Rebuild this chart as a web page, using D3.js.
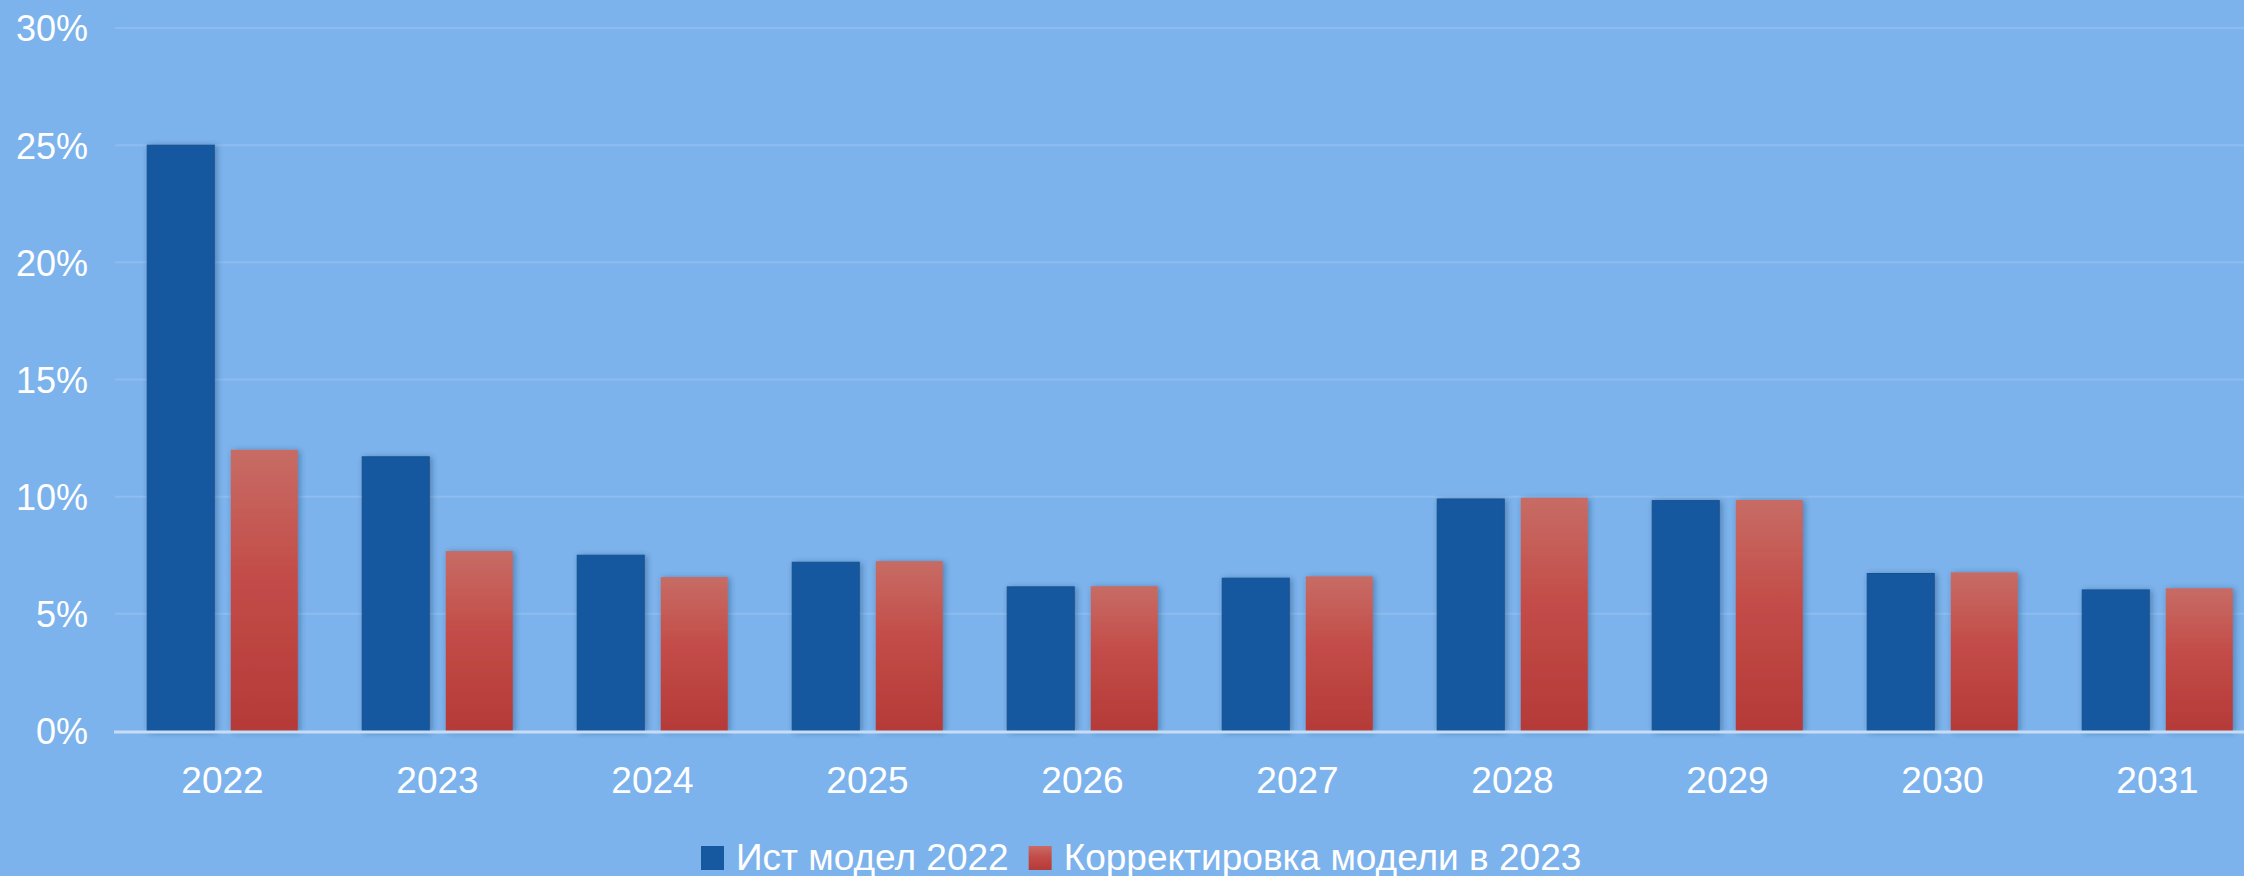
<!DOCTYPE html>
<html>
<head>
<meta charset="utf-8">
<script src="https://cdn.jsdelivr.net/npm/d3@7"></script>
<style>
  html, body { margin: 0; padding: 0; background: #7db3ec; overflow: hidden; }
  svg { display: block; font-family: "Liberation Sans", Arial, sans-serif; }
</style>
</head>
<body>
<div id="chart"></div>
<script>
// chart data
const years = ["2022", "2023", "2024", "2025", "2026", "2027", "2028", "2029", "2030", "2031"];
const histModel = [25.0, 11.7, 7.5, 7.2, 6.15, 6.52, 9.9, 9.83, 6.72, 6.02];
const corrected = [12.0, 7.68, 6.57, 7.25, 6.18, 6.6, 9.95, 9.86, 6.77, 6.09];
const seriesNames = ["Ист модел 2022", "Корректировка модели в 2023"];
const yTicks = [0, 5, 10, 15, 20, 25, 30];

const width = 2244;
const height = 876;
const margin = { top: 28, right: -21, bottom: 145, left: 115 };

const svg = d3.select("#chart")
    .append("svg")
    .attr("width", width)
    .attr("height", height);

const defs = svg.append("defs");

const grad = defs.append("linearGradient")
    .attr("id", "redGrad")
    .attr("x1", 0).attr("y1", 0).attr("x2", 0).attr("y2", 1);
grad.append("stop").attr("offset", "0%").attr("stop-color", "#c76c65");
grad.append("stop").attr("offset", "45%").attr("stop-color", "#c34c48");
grad.append("stop").attr("offset", "100%").attr("stop-color", "#b53a38");

const shadow = defs.append("filter")
    .attr("id", "shadow")
    .attr("x", "-20%").attr("y", "-10%").attr("width", "140%").attr("height", "120%");
shadow.append("feDropShadow")
    .attr("dx", 2).attr("dy", 1)
    .attr("stdDeviation", 3)
    .attr("flood-color", "#1b3a66")
    .attr("flood-opacity", 0.45);

const x = d3.scaleBand()
    .domain(years)
    .range([margin.left, width - margin.right])
    .paddingInner(0)
    .paddingOuter(0);

const x1 = d3.scaleBand()
    .domain([0, 1])
    .range([0, x.bandwidth()])
    .paddingInner(0.198)
    .paddingOuter(0.386);

const y = d3.scaleLinear()
    .domain([0, 30])
    .range([height - margin.bottom, margin.top]);

// gridlines
svg.append("g")
    .selectAll("line")
    .data(yTicks.filter(d => d > 0))
    .enter().append("line")
    .attr("x1", margin.left)
    .attr("x2", width)
    .attr("y1", d => y(d))
    .attr("y2", d => y(d))
    .attr("stroke", "#ffffff")
    .attr("stroke-opacity", 0.13)
    .attr("stroke-width", 2);

// y axis labels
const yAxis = d3.axisLeft(y)
    .tickValues(yTicks)
    .tickFormat(d => d + "%")
    .tickSize(0)
    .tickPadding(27);

svg.append("g")
    .attr("transform", `translate(${margin.left},0)`)
    .call(yAxis)
    .call(g => g.select(".domain").remove())
    .selectAll("text")
    .attr("fill", "#ffffff")
    .attr("font-size", 36)
    .attr("dy", "0.36em");

// bars
const groups = svg.append("g")
    .selectAll("g")
    .data(years.map((yr, i) => ({ yr, vals: [histModel[i], corrected[i]] })))
    .enter().append("g")
    .attr("transform", d => `translate(${x(d.yr)},0)`);

groups.selectAll("rect")
    .data(d => d.vals.map((v, k) => ({ v, k })))
    .enter().append("rect")
    .attr("x", d => x1(d.k))
    .attr("width", x1.bandwidth())
    .attr("y", d => y(d.v))
    .attr("height", d => y(0) - y(d.v))
    .attr("fill", d => d.k === 0 ? "#1759a0" : "url(#redGrad)")
    .attr("stroke", d => d.k === 0 ? "#14508f" : "none")
    .attr("stroke-width", 1)
    .attr("filter", "url(#shadow)");

// baseline
svg.append("line")
    .attr("x1", margin.left - 1)
    .attr("x2", width)
    .attr("y1", y(0) + 1)
    .attr("y2", y(0) + 1)
    .attr("stroke", "#c7ddf5")
    .attr("stroke-width", 3);

// x axis labels
const xAxis = d3.axisBottom(x).tickSize(0).tickPadding(36);
svg.append("g")
    .attr("transform", `translate(0,${y(0)})`)
    .call(xAxis)
    .call(g => g.select(".domain").remove())
    .selectAll("text")
    .attr("fill", "#ffffff")
    .attr("font-size", 37);

// legend
const legendColors = ["#1759a0", "url(#redGrad)"];
const legend = svg.append("g").attr("transform", "translate(701,870)");
let lx = 0;
seriesNames.forEach((name, i) => {
    legend.append("rect")
        .attr("x", lx)
        .attr("y", -24)
        .attr("width", 23)
        .attr("height", 24)
        .attr("fill", legendColors[i]);
    const t = legend.append("text")
        .attr("x", lx + 35)
        .attr("y", 0)
        .attr("fill", "#ffffff")
        .attr("font-size", 37)
        .text(name);
    lx += 35 + t.node().getComputedTextLength() + 20;
});
</script>
</body>
</html>
